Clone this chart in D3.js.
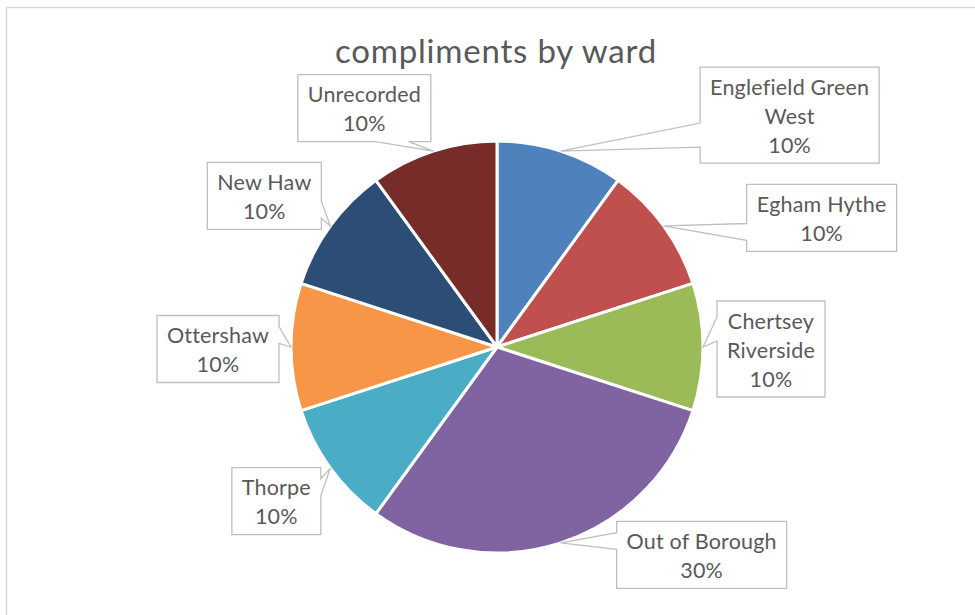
<!DOCTYPE html>
<html>
<head>
<meta charset="utf-8">
<script src="https://cdn.jsdelivr.net/npm/d3@7"></script>
<style>
  html, body { margin: 0; padding: 0; background: #ffffff; }
  svg { display: block; font-family: Lato, "Open Sans", sans-serif; }
</style>
</head>
<body>
<svg id="chart" width="975" height="615"></svg>
<script>
// Compliments by ward — share of all compliments
const title = "compliments by ward";
const categories = ["Englefield Green West", "Egham Hythe", "Chertsey Riverside", "Out of Borough",
                    "Thorpe", "Ottershaw", "New Haw", "Unrecorded"];
const shares = [10, 10, 10, 30, 10, 10, 10, 10];
// How each category name wraps inside its callout
const labelLines = [["Englefield Green", "West"], ["Egham Hythe"], ["Chertsey", "Riverside"], ["Out of Borough"],
                    ["Thorpe"], ["Ottershaw"], ["New Haw"], ["Unrecorded"]];
const colors = ["#4F81BD", "#C0504D", "#9BBB59", "#8064A2", "#4BACC6", "#F79646", "#2C4D75", "#772C2A"];

// Callout box centres, relative to the point on the rim each one points at
const calloutOffsets = [[229, -36], [158, -8], [68, 2], [141, 12], [-54, 33], [-73, 2], [-66, -30], [-69, -43]];

const W = 975, H = 615;
const cx = 497, cy = 347, radius = 206;
const lineH = 29, padX = 10, padY = 4.5, firstBase = 27.5;

const svg = d3.select("#chart");

// chart area outline
svg.append("rect")
  .attr("x", 6.5).attr("y", 7.5).attr("width", 1000).attr("height", 700)
  .attr("fill", "#ffffff").attr("stroke", "#d9d9d9").attr("stroke-width", 1.5);

svg.append("text")
  .attr("x", 496).attr("y", 63)
  .attr("text-anchor", "middle")
  .attr("font-size", 33)
  .attr("letter-spacing", 0.8)
  .attr("fill", "#595959")
  .text(title);

const data = categories.map((c, i) => ({ name: c, value: shares[i], lines: labelLines[i], color: colors[i], off: calloutOffsets[i] }));
const total = d3.sum(shares);

const pie = d3.pie().value(d => d.value).sort(null).startAngle(0).endAngle(2 * Math.PI);
const arc = d3.arc().innerRadius(0).outerRadius(radius);
const arcs = pie(data);

const g = svg.append("g").attr("transform", `translate(${cx},${cy})`);
g.selectAll("path.slice")
  .data(arcs)
  .join("path")
  .attr("class", "slice")
  .attr("d", arc)
  .attr("fill", d => d.data.color)
  .attr("stroke", "#ffffff")
  .attr("stroke-width", 3)
  .attr("stroke-linejoin", "round");

// Rectangle callout with a wedge pointing at (tx, ty)
function calloutPath(x0, y0, w, h, tx, ty) {
  const mx = x0 + w / 2, my = y0 + h / 2;
  const dx = tx - mx, dy = ty - my;
  const dq = dx * h / w;
  const x1 = x0 + w, y1 = y0 + h;
  if (Math.abs(dy) > Math.abs(dq)) {
    const xa = x0 + w * (dx > 0 ? 7 : 2) / 12, xb = x0 + w * (dx > 0 ? 10 : 5) / 12;
    if (dy > 0) return `M${x0},${y0}H${x1}V${y1}H${xb}L${tx},${ty}L${xa},${y1}H${x0}Z`;
    return `M${x0},${y0}H${xa}L${tx},${ty}L${xb},${y0}H${x1}V${y1}H${x0}Z`;
  } else {
    const ya = y0 + h * (dy > 0 ? 7 : 2) / 12, yb = y0 + h * (dy > 0 ? 10 : 5) / 12;
    if (dx < 0) return `M${x0},${y0}H${x1}V${y1}H${x0}V${yb}L${tx},${ty}L${x0},${ya}Z`;
    return `M${x0},${y0}H${x1}V${ya}L${tx},${ty}L${x1},${yb}V${y1}H${x0}Z`;
  }
}

const fmt = d3.format(".0%");
const labels = svg.append("g");
arcs.forEach(a => {
  const mid = (a.startAngle + a.endAngle) / 2;
  const tx = cx + radius * Math.sin(mid);
  const ty = cy - radius * Math.cos(mid);
  const lines = a.data.lines.concat([fmt(a.data.value / total)]);
  const grp = labels.append("g");
  const box = grp.append("path");
  const txt = grp.append("text")
    .attr("text-anchor", "middle")
    .attr("font-size", 21.5)
    .attr("letter-spacing", 0.2)
    .attr("fill", "#595959");
  lines.forEach((l, i) => txt.append("tspan").attr("x", 0).attr("y", i * lineH).text(l));
  const tw = txt.node().getBBox().width;
  const w = Math.round(tw + 2 * padX);
  const h = lines.length * lineH + 2 * padY;
  const bx = tx + a.data.off[0] - w / 2;
  const by = ty + a.data.off[1] - h / 2;
  txt.attr("transform", `translate(${bx + w / 2},${by + firstBase})`);
  box.attr("d", calloutPath(bx, by, w, h, tx, ty))
    .attr("fill", "#ffffff")
    .attr("stroke", "#bfbfbf")
    .attr("stroke-width", 1.3)
    .attr("stroke-linejoin", "miter");
});
</script>
</body>
</html>
